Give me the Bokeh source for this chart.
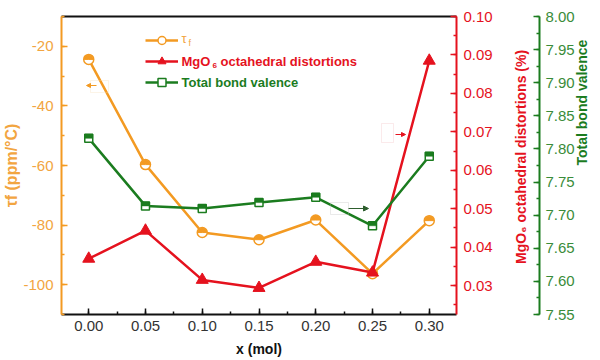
import numpy as np
from bokeh.plotting import figure
from bokeh.models import (Range1d, LinearAxis, SingleIntervalTicker, FixedTicker,
                          PrintfTickFormatter, Label, Legend, LegendItem,
                          ColumnDataSource, Arrow, NormalHead, BoxAnnotation)
from bokeh.transform import dodge
from bokeh.embed import file_html
from bokeh.resources import INLINE

# ---------------- data ----------------
x_mol = [0.00, 0.05, 0.10, 0.15, 0.20, 0.25, 0.30]
tau_f = [-24.4, -59.7, -82.5, -84.9, -78.3, -96.3, -78.5]          # ppm/°C
mgo6_dist = [0.0370, 0.0443, 0.0315, 0.0294, 0.0362, 0.0334, 0.0885]  # %
bond_val = [7.816, 7.714, 7.710, 7.719, 7.727, 7.684, 7.789]

x_ticks_interval = 0.05
tau_ticks_interval = 20
dist_ticks_interval = 0.01
bv_ticks_interval = 0.05

ORANGE = "#F39A22"
ORANGE_T = "#F2A541"
RED = "#E5121E"
GREEN = "#1B7C1F"
GREEN_T = "#3A8C3A"
FONT = "Liberation Sans"
NBSP = "\u00a0"

X_RANGE = (-0.024, 0.324)
TAU_RANGE = (-110, -10)
DIST_RANGE = (0.0225, 0.10)
BV_RANGE = (7.55, 8.00)

p = figure(width=600, height=360, output_backend="svg", toolbar_location=None,
           x_range=Range1d(*X_RANGE), y_range=Range1d(*TAU_RANGE),
           min_border_left=61, min_border_right=136, min_border_top=16,
           min_border_bottom=46)
p.outline_line_color = None
p.grid.visible = False
p.background_fill_color = "white"
p.border_fill_color = "white"

p.extra_y_ranges = {"dist": Range1d(*DIST_RANGE), "bv": Range1d(*BV_RANGE)}


def style_axis(ax, color, tcolor):
    ax.axis_line_color = color
    ax.axis_line_width = 2
    ax.major_tick_line_color = color
    ax.minor_tick_line_color = color
    ax.major_tick_line_width = 1.5
    ax.minor_tick_line_width = 1.5
    ax.major_tick_in = 6
    ax.major_tick_out = 0
    ax.minor_tick_in = 3
    ax.minor_tick_out = 0
    ax.major_label_text_color = tcolor
    ax.major_label_text_font = FONT
    ax.major_label_text_font_size = "15px"
    ax.axis_label_text_font = FONT
    ax.axis_label_text_font_style = "bold"
    ax.axis_label_text_font_size = "14px"


# bottom x axis
xa = p.xaxis[0]
xa.ticker = SingleIntervalTicker(interval=x_ticks_interval, num_minor_ticks=2)
xa.formatter = PrintfTickFormatter(format="%.2f")
style_axis(xa, "#111111", "#333333")
xa.major_label_standoff = 6
xa.axis_label = "x (mol)"
xa.axis_label_text_color = "#111111"
xa.axis_label_standoff = 7

# left axis
ya = p.yaxis[0]
ya.ticker = SingleIntervalTicker(interval=tau_ticks_interval, num_minor_ticks=2)
ya.formatter = PrintfTickFormatter(format="%d")
style_axis(ya, ORANGE, ORANGE_T)
ya.major_label_standoff = 8
ya.axis_label = "τf (ppm/°C)"
ya.axis_label_text_color = ORANGE_T
ya.axis_label_text_font_size = "16px"
ya.axis_label_standoff = 0

# red right axis
ra = LinearAxis(y_range_name="dist",
                ticker=SingleIntervalTicker(interval=dist_ticks_interval, num_minor_ticks=2),
                formatter=PrintfTickFormatter(format="%.2f"))
style_axis(ra, RED, RED)
ra.major_label_standoff = 7
ra.axis_label = NBSP * 13 + "MgO₆ octahedral distortions (%)"
ra.axis_label_text_color = RED
ra.axis_label_standoff = 25
ra.axis_label_orientation = np.pi / 2
ra.axis_label_align = "start"
p.add_layout(ra, "right")

# green right axis
ga = LinearAxis(y_range_name="bv",
                ticker=SingleIntervalTicker(interval=bv_ticks_interval, num_minor_ticks=2),
                formatter=PrintfTickFormatter(format="%.2f"))
style_axis(ga, GREEN, GREEN_T)
ga.major_label_standoff = 6
ga.axis_label = "Total bond valence"
ga.axis_label_text_color = GREEN
ga.axis_label_standoff = 4
ga.axis_label_orientation = np.pi / 2
p.add_layout(ga, "right")

# top border line
ta = LinearAxis(ticker=FixedTicker(ticks=[]))
ta.axis_line_color = "#111111"
ta.axis_line_width = 2
ta.major_tick_line_color = None
ta.minor_tick_line_color = None
p.add_layout(ta, "above")

# ---------------- series ----------------
src_o = ColumnDataSource(dict(x=x_mol, y=tau_f))
src_r = ColumnDataSource(dict(x=x_mol, y=mgo6_dist))
src_g = ColumnDataSource(dict(x=x_mol, y=bond_val))

lo = p.line("x", "y", source=src_o, line_color=ORANGE, line_width=2.5)
so = p.scatter("x", "y", source=src_o, marker="circle", size=10,
               fill_color="white", line_color=ORANGE, line_width=1.5)
p.wedge("x", "y", source=src_o, radius=4.5, radius_units="screen",
        start_angle=0, end_angle=np.pi, fill_color=ORANGE, line_color=ORANGE)

lr = p.line("x", "y", source=src_r, y_range_name="dist", line_color=RED, line_width=2.5)
sr = p.scatter("x", "y", source=src_r, y_range_name="dist", marker="triangle",
               size=12, fill_color=RED, line_color=RED)

lg = p.line("x", "y", source=src_g, y_range_name="bv", line_color=GREEN, line_width=2.5)
sg = p.scatter("x", "y", source=src_g, y_range_name="bv", marker="square", size=8,
               fill_color="white", line_color=GREEN, line_width=1.5)
half_px = (BV_RANGE[1] - BV_RANGE[0]) / 298 * 2
p.rect(x="x", y=dodge("y", half_px), source=src_g, y_range_name="bv",
       width=8, height=4, width_units="screen", height_units="screen",
       fill_color=GREEN, line_color=GREEN, line_width=0.5)

# ---------------- legend ----------------
legend = Legend(items=[LegendItem(label=" ", renderers=[lo, so]),
                       LegendItem(label=" ", renderers=[lr, sr]),
                       LegendItem(label=" ", renderers=[lg, sg])],
                location=(84, 222), glyph_width=33, glyph_height=20, spacing=1,
                padding=0, margin=0, border_line_color=None,
                background_fill_alpha=0, label_standoff=0,
                label_text_font_size="6px")
p.add_layout(legend)


def lab(text, x, y, color, size, style="bold", angle=0, align="left",
        baseline="middle"):
    p.add_layout(Label(x=x, y=y, x_units="screen", y_units="screen", text=text,
                       text_color=color, text_font=FONT,
                       text_font_size=f"{size}px", text_font_style=style,
                       angle=angle, text_align=align, text_baseline=baseline))


# legend texts
lab("τ", 120, 276, ORANGE_T, 13, style="normal")
lab("f", 127, 272, ORANGE_T, 9, style="normal")
lab("MgO", 120, 253, RED, 13)
lab("6", 151, 249, RED, 8)
lab("octahedral distortions", 159, 253, RED, 13)
lab("Total bond valence", 120, 232, GREEN, 13)

# axis indicator arrows
p.add_layout(BoxAnnotation(left=29, right=47, bottom=222, top=234,
                           left_units="screen", right_units="screen",
                           bottom_units="screen", top_units="screen",
                           fill_alpha=0, line_color="#F5D9B0", line_width=1))
p.add_layout(Arrow(x_start=35, y_start=229, x_end=25, y_end=229,
                   start_units="screen", end_units="screen",
                   line_color=ORANGE, line_width=1,
                   end=NormalHead(size=4, fill_color=ORANGE, line_color=ORANGE)))
p.add_layout(BoxAnnotation(left=320, right=332, bottom=172, top=191,
                           left_units="screen", right_units="screen",
                           bottom_units="screen", top_units="screen",
                           fill_alpha=0, line_color="#F2B8BC", line_width=1))
p.add_layout(Arrow(x_start=334, y_start=180, x_end=344, y_end=180,
                   start_units="screen", end_units="screen",
                   line_color=RED, line_width=1,
                   end=NormalHead(size=4, fill_color=RED, line_color=RED)))
p.add_layout(BoxAnnotation(left=269, right=287, bottom=100, top=112,
                           left_units="screen", right_units="screen",
                           bottom_units="screen", top_units="screen",
                           fill_alpha=0, line_color="#BBBBBB", line_width=1))
p.add_layout(Arrow(x_start=287, y_start=106, x_end=307, y_end=106,
                   start_units="screen", end_units="screen",
                   line_color="#2E5E2E", line_width=1,
                   end=NormalHead(size=5, fill_color="#2E5E2E", line_color="#2E5E2E")))

open("out.html", "w").write(file_html(p, INLINE))
